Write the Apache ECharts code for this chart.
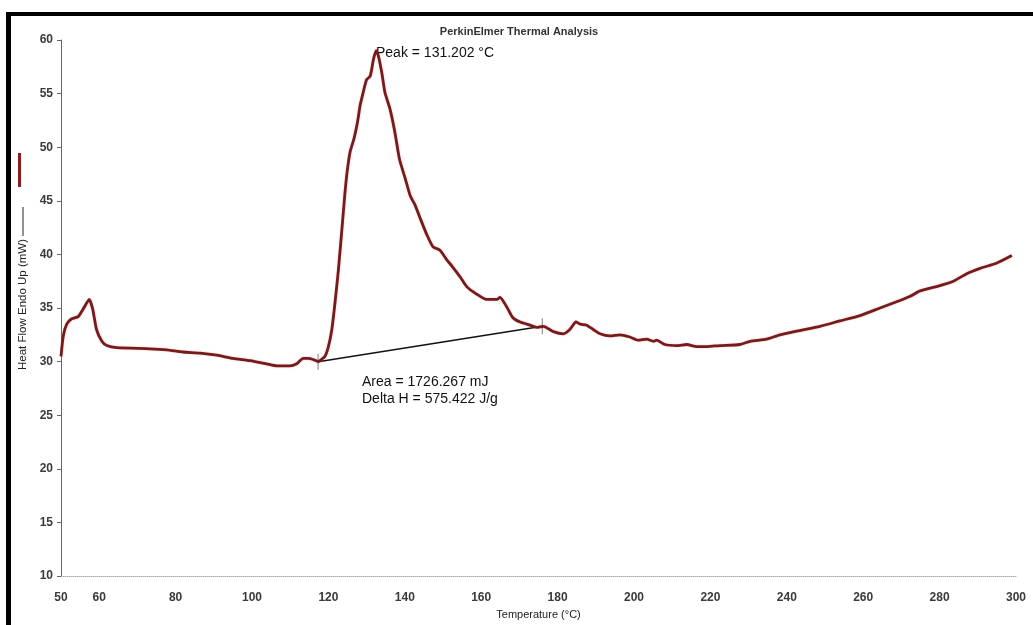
<!DOCTYPE html>
<html>
<head>
<meta charset="utf-8">
<script src="https://cdn.jsdelivr.net/npm/echarts@6/dist/echarts.min.js"></script>
<style>
html,body{margin:0;padding:0;background:#fff;}
#chart{width:1033px;height:625px;}
</style>
</head>
<body>
<div id="chart"></div>
<script>
// Temperature (°C)
var temperature = [50.0, 50.6, 51.5, 52.8, 54.5, 55.8, 57.4, 58.3, 59.3, 60.7,
  62.0, 64.6, 73.3, 77.7, 81.9, 86.4, 90.8, 95.0, 99.5, 103.8,
  106.5, 109.9, 111.7, 113.4, 114.7, 116.0, 117.3, 117.8, 119.1, 120.0,
  120.9, 121.7, 122.6, 123.5, 124.3, 124.9, 125.7, 126.7, 127.6, 128.3,
  129.1, 130.0, 130.9, 131.3, 131.8, 132.5, 133.1, 134.0, 134.8, 136.1,
  137.4, 138.6, 140.1, 141.4, 142.7, 144.0, 145.7, 147.4, 149.2, 151.0,
  152.6, 154.5, 156.2, 158.8, 161.4, 164.1, 164.9, 166.7, 168.3, 170.2,
  172.8, 174.5, 176.3, 178.9, 181.5, 183.2, 184.8, 185.9, 187.6, 189.3,
  191.1, 193.7, 196.3, 198.9, 201.1, 203.3, 205.1, 205.9, 208.1, 211.2,
  213.8, 216.4, 219.0, 222.5, 227.7, 230.4, 234.7, 238.2, 243.4, 248.7,
  253.9, 259.2, 264.4, 269.6, 272.3, 274.9, 280.1, 283.6, 287.1, 290.6,
  295.0, 298.9];
// Heat flow (mW)
var heatFlow = [30.5, 32.4, 33.5, 34.0, 34.2, 34.9, 35.8, 34.9, 33.0, 31.9,
  31.5, 31.3, 31.2, 31.1, 30.9, 30.8, 30.6, 30.3, 30.1, 29.8,
  29.6, 29.6, 29.8, 30.3, 30.3, 30.2, 30.0, 30.1, 30.5, 31.4,
  33.0, 35.4, 38.5, 42.2, 45.6, 47.7, 49.6, 50.8, 52.3, 53.9,
  55.1, 56.3, 56.6, 57.2, 58.2, 59.0, 58.5, 56.9, 55.1, 53.6,
  51.4, 48.9, 47.1, 45.5, 44.6, 43.4, 41.9, 40.7, 40.4, 39.5,
  38.8, 37.9, 37.0, 36.3, 35.8, 35.8, 36.0, 35.1, 34.1, 33.7,
  33.4, 33.2, 33.3, 32.8, 32.6, 33.0, 33.7, 33.5, 33.4, 33.0,
  32.6, 32.4, 32.5, 32.3, 32.0, 32.1, 31.9, 32.0, 31.6, 31.5,
  31.6, 31.4, 31.4, 31.5, 31.6, 31.9, 32.1, 32.5, 32.9, 33.3,
  33.8, 34.3, 35.0, 35.7, 36.1, 36.6, 37.1, 37.5, 38.2, 38.7,
  39.2, 39.9];
// Integration baseline endpoints
var baselineT = [117.3, 176.0];
var baselineY = [30.0, 33.3];
// Axis ticks
var xMin = 50, xMax = 300, xStep = 10;
var yMin = 10, yMax = 60, yStep = 5;
// Texts
var titleText = 'PerkinElmer Thermal Analysis';
var peakText = 'Peak = 131.202 °C';
var areaText = 'Area = 1726.267 mJ';
var deltaText = 'Delta H = 575.422 J/g';
var xName = 'Temperature (°C)';
var yName = 'Heat Flow Endo Up (mW)';

var curve = temperature.map(function (t, i) { return [t, heatFlow[i]]; });
var base = baselineT.map(function (t, i) { return [t, baselineY[i]]; });

var FONT = 'Liberation Sans, Arial, sans-serif';
var chart = echarts.init(document.getElementById('chart'));
chart.setOption({
  animation: false,
  backgroundColor: '#fff',
  grid: { left: 61, right: 17, top: 40, bottom: 42 },
  xAxis: {
    type: 'value', min: xMin, max: xMax, interval: xStep,
    name: xName, nameLocation: 'middle', nameGap: 29,
    nameTextStyle: { fontFamily: FONT, fontSize: 11, color: '#222' },
    axisLine: { show: true, onZero: false, lineStyle: { color: '#aaa', type: 'dotted', width: 1 } },
    axisTick: { show: false },
    axisLabel: {
      margin: 16, fontFamily: FONT, fontSize: 12, fontWeight: 'bold', color: '#3a3a3a',
      formatter: function (v) { return (v === 50 || v % 20 === 0) ? String(v) : ''; }
    },
    splitLine: { show: false }
  },
  yAxis: {
    type: 'value', min: yMin, max: yMax, interval: yStep,
    axisLine: { show: true, lineStyle: { color: '#666', width: 1 } },
    axisTick: { show: true, length: 4, lineStyle: { color: '#666' } },
    axisLabel: { margin: 8, fontFamily: FONT, fontSize: 12, fontWeight: 'bold', color: '#3a3a3a' },
    splitLine: { show: false }
  },
  series: [
    {
      type: 'line', data: curve, showSymbol: false, smooth: 0.2,
      lineStyle: { color: '#761b1b', width: 2.8, shadowColor: 'rgba(230,80,80,0.35)', shadowBlur: 2 },
      z: 3
    },
    {
      type: 'line', data: base, showSymbol: false,
      lineStyle: { color: '#111', width: 1.5 }, z: 2
    },
    {
      type: 'scatter', data: base, symbol: 'rect', symbolSize: [1.2, 16],
      itemStyle: { color: '#777' }, z: 2
    }
  ],
  graphic: [
    { type: 'rect', shape: { x: 6, y: 12, width: 1027, height: 4 }, style: { fill: '#000' } },
    { type: 'rect', shape: { x: 6, y: 12, width: 5, height: 613 }, style: { fill: '#000' } },
    { type: 'text', x: 519, y: 32, style: { text: titleText, font: 'bold 11px ' + FONT, fill: '#333', align: 'center', verticalAlign: 'middle' } },
    { type: 'text', x: 376, y: 53, style: { text: peakText, font: '14px ' + FONT, fill: '#111', align: 'left', verticalAlign: 'middle' } },
    { type: 'text', x: 362, y: 382, style: { text: areaText, font: '14px ' + FONT, fill: '#111', align: 'left', verticalAlign: 'middle' } },
    { type: 'text', x: 362, y: 399, style: { text: deltaText, font: '14px ' + FONT, fill: '#111', align: 'left', verticalAlign: 'middle' } },
    { type: 'text', x: 23, y: 370, rotation: Math.PI / 2, style: { text: yName, font: '11.5px ' + FONT, fill: '#222', align: 'left', verticalAlign: 'middle' } },
    { type: 'line', shape: { x1: 23, y1: 236, x2: 23, y2: 207 }, style: { stroke: '#222', lineWidth: 1 } },
    { type: 'rect', shape: { x: 18, y: 153, width: 3, height: 34 }, style: { fill: '#8b1c1c' } }
  ]
});
</script>
</body>
</html>
